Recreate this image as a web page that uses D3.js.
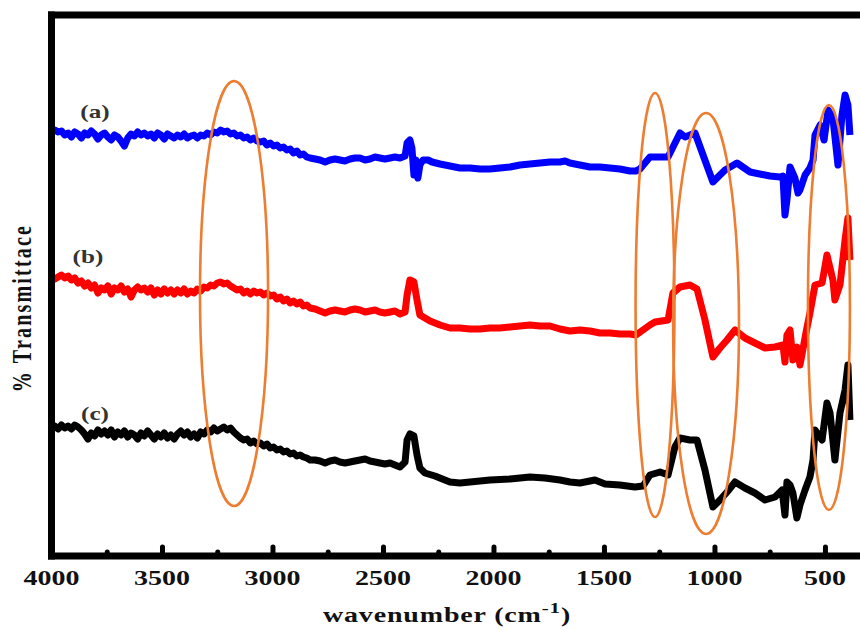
<!DOCTYPE html>
<html>
<head>
<meta charset="utf-8">
<script src="https://cdn.jsdelivr.net/npm/d3@7"></script>
<style>
  html, body { margin: 0; padding: 0; background: #ffffff; }
  svg { display: block; }
</style>
</head>
<body>
<svg id="chart" width="860" height="630"></svg>
<script>
// ---------------- DATA: [wavenumber cm-1, transmittance (arbitrary units)] ----------------
// (a) blue
const seriesA = [
  [4000,425],[3985,426],[3970,424],[3955,425],[3940,421],[3925,423],[3910,419],[3895,424],[3880,422],[3865,418],
  [3850,423],[3835,421],[3820,425],[3805,422],[3790,417],[3775,421],[3760,423],[3745,419],[3730,416],[3715,421],
  [3700,419],[3685,415],[3670,410],[3655,418],[3640,422],[3625,420],[3610,424],[3595,421],[3580,423],[3565,420],
  [3550,422],[3535,418],[3520,423],[3505,421],[3490,417],[3475,422],[3460,420],[3445,418],[3430,421],[3415,419],
  [3400,422],[3385,418],[3370,420],[3355,421],[3340,418],[3325,421],[3310,420],[3295,423],[3280,421],[3265,424],
  [3250,423],[3235,426],[3220,424],[3205,425],[3190,422],[3175,423],[3160,420],[3145,421],[3130,418],[3115,419],
  [3100,416],[3085,418],[3070,415],[3055,414],[3040,415],[3025,411],[3010,413],[2995,410],[2980,411],[2965,408],
  [2950,409],[2935,406],[2920,407],[2905,403],[2890,405],[2875,401],[2860,402],[2845,399],[2830,398],
  [2807,397],[2785,396],[2762,394],[2740,396],[2717,397],[2695,396],[2672,395],[2649,397],[2627,398],[2604,398],
  [2581,396],[2559,397],[2536,399],[2514,398],[2491,397],[2468,398],[2446,399],[2423,398],
  [2400,400],[2391,413],[2378,416],[2369,408],[2360,381],[2351,396],[2342,378],[2333,391],[2319,396],[2296,396],
  [2278,394],[2242,392],[2197,390],[2152,388],[2106,388],[2061,387],[2016,387],[1971,388],[1925,389],[1880,391],
  [1835,392],[1790,393],[1744,394],[1699,394],[1676,395],[1654,393],[1609,391],[1563,389],[1518,389],[1473,388],
  [1428,387],[1382,385],[1355,385],[1337,387],[1292,399],[1210,399],[1156,423],[1133,419],[1088,423],[1007,374],
  [952,386],[898,393],[839,384],[749,380],[704,379],[690,380],[681,341],[672,356],[658,389],[636,378],
  [622,363],[613,366],[590,381],[568,388],[554,396],[545,421],[522,431],[504,416],[486,446],[464,438],
  [441,391],[423,441],[409,461],[396,451],[387,421]
];
// (b) red
const seriesB = [
  [4000,279],[3985,277],[3970,279],[3955,281],[3940,278],[3925,280],[3910,276],[3895,278],[3880,273],[3865,275],
  [3850,270],[3835,273],[3820,268],[3805,271],[3790,263],[3775,268],[3760,266],[3745,270],[3730,262],[3715,268],
  [3700,266],[3685,270],[3670,264],[3655,267],[3640,259],[3625,266],[3610,269],[3595,266],[3580,268],[3565,264],
  [3550,268],[3535,261],[3520,266],[3505,262],[3490,267],[3475,263],[3460,266],[3445,262],[3430,266],[3415,263],
  [3400,267],[3385,262],[3370,265],[3355,263],[3340,267],[3325,265],[3310,269],[3295,268],[3280,271],[3265,270],
  [3250,273],[3235,274],[3220,272],[3205,273],[3190,270],[3175,268],[3160,266],[3145,267],[3130,263],[3115,265],
  [3100,262],[3085,265],[3070,263],[3055,264],[3040,261],[3025,263],[3010,260],[2995,261],[2980,257],[2965,259],
  [2950,255],[2935,257],[2920,253],[2905,255],[2890,252],[2875,254],[2860,250],[2845,251],[2830,248],
  [2807,247],[2785,245],[2762,243],[2740,245],[2717,246],[2695,245],[2672,244],[2649,246],[2627,247],[2604,246],
  [2581,244],[2559,245],[2536,246],[2514,244],[2491,243],[2468,244],[2446,245],[2423,242],
  [2400,244],[2391,261],[2378,276],[2360,274],[2346,256],[2333,241],[2310,238],[2287,235],[2242,231],[2197,228],
  [2152,228],[2106,227],[2061,227],[2016,228],[1971,228],[1925,229],[1880,230],[1835,231],[1790,230],[1744,230],
  [1699,227],[1654,225],[1609,226],[1563,225],[1518,223],[1473,223],[1428,222],[1382,222],[1355,221],[1292,231],
  [1269,234],[1210,236],[1188,263],[1156,269],[1111,271],[1079,267],[1043,236],[1007,199],[975,208],[943,216],
  [907,226],[862,218],[817,213],[771,208],[726,209],[690,211],[681,194],[672,221],[658,226],[645,196],
  [627,209],[613,191],[586,223],[568,243],[545,271],[513,273],[491,301],[464,276],[455,256],[432,271],
  [409,316],[396,338],[387,296]
];
// (c) black
const seriesC = [
  [4000,128],[3985,130],[3970,127],[3955,131],[3940,128],[3925,130],[3910,127],[3895,131],[3880,129],[3865,126],
  [3850,122],[3835,117],[3820,123],[3805,120],[3790,126],[3775,122],[3760,125],[3745,121],[3730,126],[3715,119],
  [3700,124],[3685,121],[3670,125],[3655,119],[3640,123],[3625,121],[3610,117],[3595,123],[3580,120],[3565,125],
  [3550,121],[3535,117],[3520,122],[3505,119],[3490,123],[3475,118],[3460,121],[3445,117],[3430,122],[3415,125],
  [3400,121],[3385,124],[3370,119],[3355,122],[3340,118],[3325,124],[3310,122],[3295,126],[3280,124],[3265,128],
  [3250,125],[3235,127],[3220,129],[3205,126],[3190,128],[3175,124],[3160,121],[3145,118],[3130,116],[3115,117],
  [3100,113],[3085,115],[3070,112],[3055,113],[3040,110],[3025,112],[3010,108],[2995,109],[2980,106],[2965,107],
  [2950,104],[2935,105],[2920,102],[2905,103],[2890,100],[2875,101],[2860,99],[2845,98],[2830,96],
  [2807,96],[2785,95],[2762,93],[2740,95],[2717,96],[2695,94],[2672,93],[2649,94],[2627,95],[2604,96],
  [2581,97],[2559,95],[2536,94],[2514,93],[2491,92],[2468,93],[2446,91],[2423,89],
  [2400,94],[2391,116],[2378,122],[2360,120],[2346,101],[2333,88],[2310,83],[2265,80],[2197,74],[2152,73],
  [2106,74],[2016,76],[1925,77],[1835,79],[1767,78],[1699,76],[1654,74],[1609,73],[1541,76],[1495,72],
  [1428,71],[1360,69],[1323,70],[1292,81],[1246,84],[1210,81],[1179,109],[1156,118],[1111,116],[1079,116],
  [1043,86],[1007,49],[975,56],[943,64],[907,74],[862,68],[817,63],[771,56],[726,59],[694,66],
  [681,41],[672,74],[658,71],[645,63],[627,38],[613,51],[590,66],[568,79],[554,96],[545,126],
  [513,116],[491,153],[477,143],[455,96],[432,143],[409,166],[396,191],[387,136]
];

const seriesNames = ["(a)", "(b)", "(c)"];
const seriesColors = ["#0000ff", "#ff0000", "#000000"];
const majorTicks = [4000, 3500, 3000, 2500, 2000, 1500, 1000, 500];
const minorTicks = [3750, 3250, 2750, 2250, 1750, 1250, 750];

// highlighted bands: centre wavenumber, half-width (cm-1), centre transmittance, half-height
const bandCentre = [3174, 1269, 1038, 482];
const bandHalfWidth = [154, 88, 149, 95];
const bandMid = [262.5, 251, 232.5, 248.5];
const bandHalfHeight = [212.5, 212, 210.5, 202.5];

// label anchor points (wavenumber, transmittance)
const labelWn = [3803, 3835, 3803];
const labelT = [438, 293, 136];

// ---------------- DRAWING ----------------
const svg = d3.select("#chart");
const W = 860;
const STRETCH = 1.4;
const serif = "'Liberation Serif','Times New Roman',serif";

const x = d3.scaleLinear().domain([4000, 350]).range([51.5, 858.1]);
const y = d3.scaleLinear().domain([0, 541]).range([556, 15]);

const series = [seriesA, seriesB, seriesC];
const line = d3.line().x(d => x(d[0])).y(d => y(d[1]));

const plot = svg.append("g");
series.forEach((s, i) => {
  plot.append("path")
    .datum(s)
    .attr("d", line)
    .attr("fill", "none")
    .attr("stroke", seriesColors[i])
    .attr("stroke-width", 7)
    .attr("stroke-linejoin", "round")
    .attr("stroke-linecap", "butt");
});

// ellipses
bandCentre.forEach((c, i) => {
  plot.append("ellipse")
    .attr("cx", x(c))
    .attr("cy", y(bandMid[i]))
    .attr("rx", Math.abs(x(c + bandHalfWidth[i]) - x(c)))
    .attr("ry", Math.abs(y(bandMid[i] + bandHalfHeight[i]) - y(bandMid[i])))
    .attr("fill", "none")
    .attr("stroke", "#ed7d31")
    .attr("stroke-width", 2.6);
});

// frame
const frame = svg.append("g").attr("stroke", "#000").attr("stroke-width", 7);
frame.append("line").attr("x1", x(4000)).attr("x2", W).attr("y1", y(0)).attr("y2", y(0)).attr("stroke-linecap","square");
frame.append("line").attr("x1", x(4000)).attr("x2", W).attr("y1", y(541)).attr("y2", y(541)).attr("stroke-linecap","square");
frame.append("line").attr("x1", x(4000)).attr("x2", x(4000)).attr("y1", y(541)).attr("y2", y(0)).attr("stroke-linecap","square");

// ticks via d3 axis (inward)
const axisMajor = d3.axisBottom(x).tickValues(majorTicks.filter(v => v !== 4000)).tickSizeInner(-9).tickSizeOuter(0).tickFormat("");
const axisMinor = d3.axisBottom(x).tickValues(minorTicks).tickSizeInner(-4).tickSizeOuter(0).tickFormat("");
[axisMajor, axisMinor].forEach(ax => {
  const g = svg.append("g").attr("transform", `translate(0,${y(0)})`).call(ax);
  g.select(".domain").remove();
  g.selectAll(".tick line").attr("stroke", "#000").attr("stroke-width", 5).attr("stroke-linecap", "round");
});

// text helper (the source figure is horizontally stretched)
function stretched(parent, px, py, str, size, opts = {}) {
  return parent.append("text")
    .attr("transform", `translate(${px},${py}) scale(${STRETCH},1)`)
    .attr("font-family", serif)
    .attr("font-weight", "bold")
    .attr("font-size", size)
    .attr("text-anchor", opts.anchor || "middle")
    .attr("fill", opts.fill || "#000")
    .text(str);
}
const labels = svg.append("g");
majorTicks.forEach(v => stretched(labels, x(v), 585, String(v), 20, { fill: "#111" }));

// x title
const xt = svg.append("text")
  .attr("transform", `translate(447,622) scale(${STRETCH},1)`)
  .attr("font-family", serif)
  .attr("font-weight", "bold")
  .attr("font-size", 20)
  .attr("text-anchor", "middle")
  .attr("letter-spacing", 0.6)
  .attr("fill", "#111");
xt.append("tspan").text("wavenumber (cm");
xt.append("tspan").attr("dy", -9).attr("font-size", 15).text("-1");
xt.append("tspan").attr("dy", 9).text(")");

// y title
svg.append("text")
  .attr("transform", `translate(31,308) rotate(-90) scale(1,${STRETCH})`)
  .attr("font-family", serif)
  .attr("font-weight", "bold")
  .attr("font-size", 20)
  .attr("text-anchor", "middle")
  .attr("letter-spacing", 2.2)
  .attr("fill", "#111")
  .text("% Transmittace");

// series labels
seriesNames.forEach((n, i) => {
  stretched(labels, x(labelWn[i]), y(labelT[i]), n, 18, { fill: "#333" });
});
</script>
</body>
</html>
